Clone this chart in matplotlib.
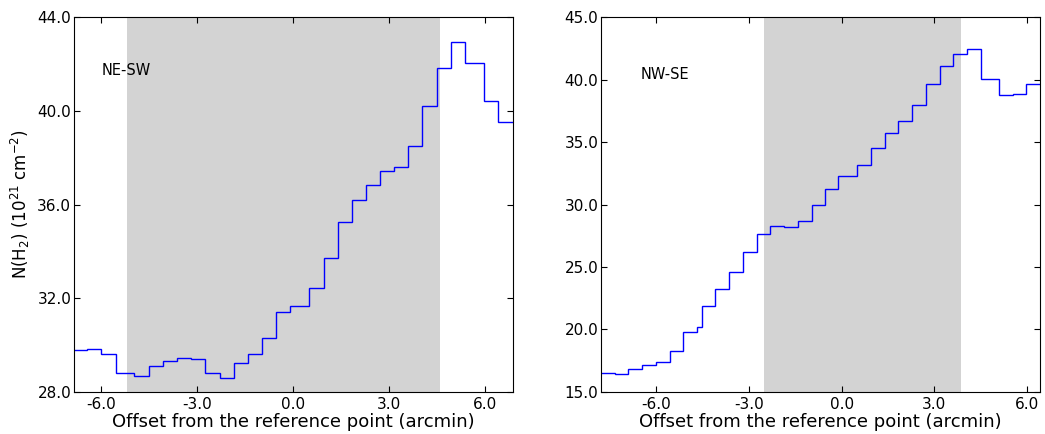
import matplotlib
matplotlib.use("Agg")
import matplotlib.pyplot as plt
from matplotlib.ticker import FormatStrFormatter

plt.rcParams['axes.unicode_minus'] = False
plt.rcParams['font.family'] = 'DejaVu Sans'

# NE-SW cut: step edges (arcmin) and column densities (1e21 cm^-2)
ne_edges = [-7.0, -6.44, -6.0, -5.55, -4.96, -4.51, -4.06, -3.63, -3.18, -2.74,
            -2.29, -1.85, -1.41, -0.97, -0.52, -0.10, 0.51, 0.96, 1.40, 1.83,
            2.27, 2.72, 3.17, 3.61, 4.04, 4.49, 4.93, 5.38, 5.97, 6.42, 7.0]
ne_vals = [29.80, 29.85, 29.64, 28.83, 28.67, 29.09, 29.33, 29.44, 29.41, 28.83,
           28.59, 29.23, 29.60, 30.29, 31.40, 31.65, 32.43, 33.71, 35.24, 36.21,
           36.83, 37.41, 37.60, 38.48, 40.19, 41.84, 42.93, 42.05, 40.40, 39.50]
ne_shade = (-5.20, 4.60)

# NW-SE cut
nw_edges = [-8.0, -7.34, -6.90, -6.45, -6.01, -5.56, -5.12, -4.68, -4.51, -4.08,
            -3.63, -3.19, -2.75, -2.31, -1.85, -1.41, -0.97, -0.53, -0.13, 0.50,
            0.94, 1.39, 1.83, 2.28, 2.73, 3.17, 3.61, 4.05, 4.51, 5.09, 5.53,
            5.97, 6.6]
nw_vals = [16.49, 16.44, 16.81, 17.13, 17.37, 18.25, 19.82, 20.19, 21.89, 23.20,
           24.58, 26.18, 27.67, 28.26, 28.18, 28.66, 29.98, 31.21, 32.28, 33.16,
           34.49, 35.74, 36.65, 37.95, 39.65, 41.06, 42.02, 42.42, 40.08, 38.80,
           38.85, 39.68]
nw_shade = (-2.52, 3.86)

xticks = [-6.0, -3.0, 0.0, 3.0, 6.0]

fig = plt.figure(figsize=(10.45, 4.34), dpi=100)
ax1 = fig.add_axes([0.0708, 0.0968, 0.420, 0.864])
ax2 = fig.add_axes([0.5751, 0.0968, 0.420, 0.864])

panels = [
    (ax1, ne_edges, ne_vals, ne_shade, (-6.85, 6.875), (28, 44), [28, 32, 36, 40, 44], 'NE-SW', (-5.98, 41.7)),
    (ax2, nw_edges, nw_vals, nw_shade, (-7.78, 6.41), (15, 45), [15, 20, 25, 30, 35, 40, 45], 'NW-SE', (-6.5, 40.4)),
]

for ax, edges, vals, shade, xl, yl, yt, name, pos in panels:
    ax.axvspan(shade[0], shade[1], color='lightgray', lw=0, zorder=0)
    ax.stairs(vals, edges, baseline=None, color='blue', lw=1.0, zorder=2)
    ax.set_xlim(*xl)
    ax.set_ylim(*yl)
    ax.set_xticks(xticks)
    ax.set_yticks(yt)
    ax.xaxis.set_major_formatter(FormatStrFormatter('%.1f'))
    ax.yaxis.set_major_formatter(FormatStrFormatter('%.1f'))
    ax.tick_params(direction='in', top=True, right=True, length=4, labelsize=11)
    ax.tick_params(axis='y', pad=2)
    ax.set_xlabel('Offset from the reference point (arcmin)', fontsize=13, labelpad=1)
    ax.text(pos[0], pos[1], name, fontsize=10.5, va='center', ha='left')

ax1.set_ylabel(r'N(H$_2$) (10$^{21}$ cm$^{-2}$)', fontsize=12, labelpad=4)

fig.savefig('out.png', dpi=100)
